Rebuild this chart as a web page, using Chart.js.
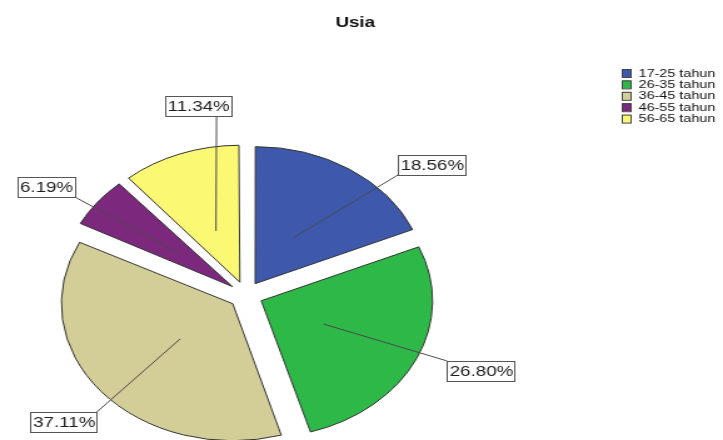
<!DOCTYPE html>
<html>
<head>
<meta charset="utf-8">
<title>Usia</title>
<script src="https://cdn.jsdelivr.net/npm/chart.js@4"></script>
<style>
  html, body { margin: 0; padding: 0; background: #fff; overflow: hidden; }
  /* the exported chart is stretched sideways, so the whole canvas is too */
  #wrap { width: 578px; height: 440px; transform: scaleX(1.2509); transform-origin: 0 0; }
</style>
</head>
<body>
<div id="wrap"><canvas id="pie"></canvas></div>
<script>
const TITLE = "Usia";
const AGE_GROUPS = ["17-25 tahun", "26-35 tahun", "36-45 tahun", "46-55 tahun", "56-65 tahun"];
const PERCENTS = [18.56, 26.80, 37.11, 6.19, 11.34];
const SLICE_COLORS = ["#3e58ac", "#2eb848", "#d3ce97", "#7c287d", "#fbf873"];

const FONT = '"Liberation Sans", Arial, sans-serif';
const RADIUS = 137;
const EXPLODE = 13.6; // how far every slice is pulled out of the centre

// callouts: angle shift (deg, clockwise) and length (x radius) for each slice
const CALLOUT_SHIFT = [13, -3, -5, -2.6, 14];
const CALLOUT_LEN = [1.15, 1.17, 1.12, 1.13, 1.22];

const clamp = (v) => Math.max(-1, Math.min(1, v));

// Chart.js grows small exploded slices a little; keep them all on one radius
const evenRadius = {
    id: "evenRadius",
    afterDatasetUpdate(chart, args) {
        for (const arc of args.meta.data) {
            const fix = 1 - Math.sin(Math.min(Math.PI, arc.circumference));
            arc.outerRadius = RADIUS - EXPLODE * fix;
        }
    },
};

// percentage boxes with leader lines into each slice
const callouts = {
    id: "callouts",
    afterDatasetsDraw(chart) {
        const { ctx } = chart;
        const arcs = chart.getDatasetMeta(0).data;
        ctx.save();
        ctx.font = `15px ${FONT}`;
        ctx.textAlign = "center";
        ctx.textBaseline = "middle";
        ctx.lineWidth = 1;
        arcs.forEach((arc, i) => {
            const mid = (arc.startAngle + arc.endAngle) / 2;
            const ax = arc.x + Math.cos(mid) * EXPLODE;
            const ay = arc.y + Math.sin(mid) * EXPLODE;
            const out = mid + (CALLOUT_SHIFT[i] * Math.PI) / 180;
            const x0 = ax + Math.cos(mid) * RADIUS * 0.4;
            const y0 = ay + Math.sin(mid) * RADIUS * 0.4;
            const x1 = ax + Math.cos(out) * RADIUS * CALLOUT_LEN[i];
            const y1 = ay + Math.sin(out) * RADIUS * CALLOUT_LEN[i];

            ctx.strokeStyle = "#4a4a4a";
            ctx.beginPath();
            ctx.moveTo(x0, y0);
            ctx.lineTo(x1, y1);
            ctx.stroke();

            const text = PERCENTS[i].toFixed(2) + "%";
            const w = Math.round(ctx.measureText(text).width + 3);
            const h = 20;
            const bx = x1 + (w / 2) * clamp(5 * Math.cos(out)) - w / 2;
            const by = y1 + (h / 2) * clamp(5 * Math.sin(out)) - h / 2;
            ctx.fillStyle = "#fff";
            ctx.fillRect(bx, by, w, h);
            ctx.strokeStyle = "#555";
            ctx.strokeRect(Math.round(bx) + 0.5, Math.round(by) + 0.5, w, h);
            ctx.fillStyle = "#1e1e1e";
            ctx.fillText(text, bx + w / 2 + 0.5, by + h / 2 + 1);
        });
        ctx.restore();
    },
};

// title and the small legend in the top right corner
const decorations = {
    id: "decorations",
    afterDraw(chart) {
        const { ctx } = chart;
        const ds = chart.data.datasets[0];
        ctx.save();
        ctx.fillStyle = "#111";
        ctx.font = `bold 15px ${FONT}`;
        ctx.textAlign = "center";
        ctx.textBaseline = "middle";
        ctx.fillText(TITLE, 284, 23);

        ctx.font = `11.5px ${FONT}`;
        ctx.textAlign = "left";
        ctx.lineWidth = 1;
        chart.data.labels.forEach((label, i) => {
            const y = 69 + i * 11.4;
            ctx.fillStyle = ds.backgroundColor[i];
            ctx.fillRect(497.5, y, 7, 8);
            ctx.strokeStyle = "#444";
            ctx.strokeRect(497.5, y + 0.5, 7, 8);
            ctx.fillStyle = "#111";
            ctx.fillText(label, 510.5, y + 4.5);
        });
        ctx.restore();
    },
};

new Chart(document.getElementById("pie"), {
    type: "pie",
    data: {
        labels: AGE_GROUPS,
        datasets: [
            {
                data: PERCENTS,
                backgroundColor: SLICE_COLORS,
                borderColor: "#333",
                borderWidth: 1,
                offset: 4 * EXPLODE,
                clip: false,
            },
        ],
    },
    options: {
        responsive: true,
        maintainAspectRatio: false,
        animation: false,
        events: [],
        radius: RADIUS,
        layout: { padding: { left: 0, right: 185, top: 150, bottom: 0 } },
        plugins: {
            legend: { display: false },
            title: { display: false },
            tooltip: { enabled: false },
        },
    },
    plugins: [evenRadius, callouts, decorations],
});
</script>
</body>
</html>
